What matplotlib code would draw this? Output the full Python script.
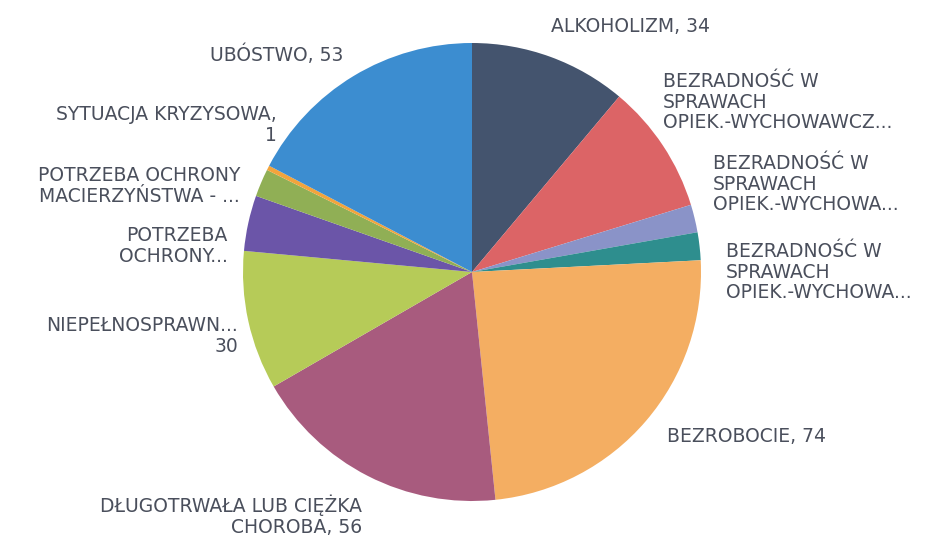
import matplotlib.pyplot as plt

# dane z wykresu (kolejność zgodnie z ruchem wskazówek zegara od góry)
labels = [
    'ALKOHOLIZM, 34',
    'BEZRADNOŚĆ W\nSPRAWACH\nOPIEK.-WYCHOWAWCZ...',
    'BEZRADNOŚĆ W\nSPRAWACH\nOPIEK.-WYCHOWA...',
    'BEZRADNOŚĆ W\nSPRAWACH\nOPIEK.-WYCHOWA...',
    'BEZROBOCIE, 74',
    'DŁUGOTRWAŁA LUB CIĘŻKA\nCHOROBA, 56',
    'NIEPEŁNOSPRAWN...\n30',
    'POTRZEBA\nOCHRONY...',
    'POTRZEBA OCHRONY\nMACIERZYŃSTWA - ...',
    'SYTUACJA KRYZYSOWA,\n1',
    'UBÓSTWO, 53',
]
values = [34, 28, 6, 6, 74, 56, 30, 12, 6, 1, 53]
colors = ['#44546E', '#DC6466', '#8A93C8', '#2E8E8E', '#F4AE62', '#A85B7E',
          '#B6CB58', '#6B55A8', '#90AF55', '#F2A43C', '#3C8DD0']

# pozycje etykiet w pikselach (x, y, wyrównanie)
label_pos = [
    (551, 27, 'left'),
    (663, 102, 'left'),
    (713, 184, 'left'),
    (726, 272, 'left'),
    (667, 437, 'left'),
    (362, 516, 'right'),
    (238, 336, 'right'),
    (228, 246, 'right'),
    (240, 186, 'right'),
    (277, 125, 'right'),
    (343, 55, 'right'),
]

W, H = 940, 538
fig = plt.figure(figsize=(W / 100, H / 100), dpi=100)
cx, cy, r = 472, 272, 229
ax = fig.add_axes([(cx - r) / W, (H - cy - r) / H, 2 * r / W, 2 * r / H])
ax.pie(values, colors=colors, startangle=90, counterclock=False,
       wedgeprops={'linewidth': 0})
ax.set_xlim(-1, 1)
ax.set_ylim(-1, 1)
ax.set_aspect('equal')

for txt, (x, y, ha) in zip(labels, label_pos):
    fig.text(x / W, 1 - y / H, txt, ha=ha, va='center', multialignment=ha,
             fontsize=13.5, color='#4A4F5C', linespacing=1.1,
             family=['DejaVu Sans'])

fig.savefig('out.png', dpi=100, facecolor='white')
